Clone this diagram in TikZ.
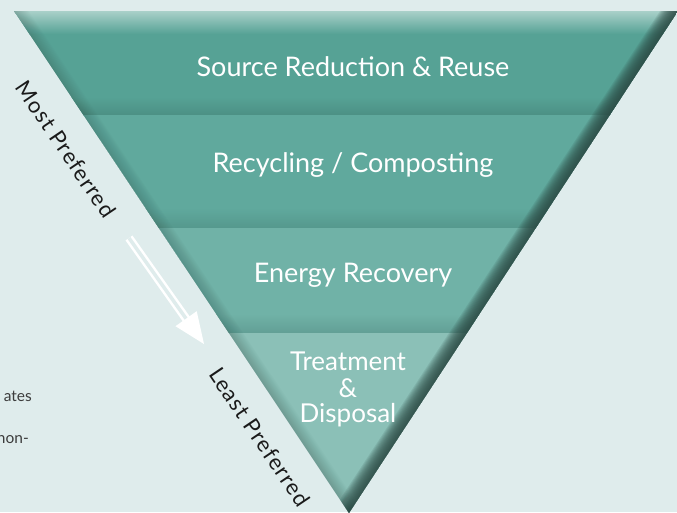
\documentclass[tikz,border=0pt]{standalone}
\usepackage{fontspec}
\setmainfont{Lato}
\usetikzlibrary{calc}
\definecolor{bg}{HTML}{DFECEC}
\definecolor{bandA}{HTML}{56A295}
\definecolor{bandAd}{HTML}{4C9084}
\definecolor{bandB}{HTML}{60A99D}
\definecolor{bandBd}{HTML}{55988D}
\definecolor{bandC}{HTML}{70B2A7}
\definecolor{bandCd}{HTML}{629F95}
\definecolor{bandD}{HTML}{8BC0B7}
\definecolor{toplight}{HTML}{A9D0C9}
\definecolor{edgedark}{HTML}{2C4A44}
\definecolor{ink}{HTML}{1A1A1A}
\definecolor{note}{HTML}{3C3C3C}
\begin{document}
\begin{tikzpicture}[x=1pt,y=-1pt,
  bandlabel/.style={text=white,font=\fontsize{27}{27}\selectfont,align=center,inner sep=0pt},
  sidelabel/.style={text=ink,font=\fontsize{22}{24}\selectfont\addfontfeatures{LetterSpace=5},rotate=-56,inner sep=0pt},
  notetext/.style={text=note,font=\fontsize{15.5}{18}\selectfont,inner sep=0pt},
  shaft/.style={draw=white,double=bg,line width=2.5pt,double distance=3.5pt}]
\fill[bg] (0,0) rectangle (677,512);
\useasboundingbox (0,0) rectangle (677,512);
\coordinate (L) at (14,11);
\coordinate (R) at (678,11);
\coordinate (A) at (349,513);
\begin{scope}
  \clip (L) -- (R) -- (A) -- cycle;
  \fill[bandA] (0,11) rectangle (677,115);
  \shade[top color=toplight, bottom color=bandA] (0,11) rectangle (677,34);
  \shade[top color=bandA, bottom color=bandAd] (0,97) rectangle (677,115);
  \fill[bandB] (0,115) rectangle (677,228);
  \shade[top color=bandB, bottom color=bandBd] (0,208) rectangle (677,228);
  \fill[bandC] (0,228) rectangle (677,333);
  \shade[top color=bandC, bottom color=bandCd] (0,314) rectangle (677,333);
  \fill[bandD] (0,333) rectangle (677,513);
  \foreach \w in {2,4,...,30} \draw[edgedark, line width=\w pt, opacity=0.12] (R) -- (A);
  \foreach \w in {2,4,...,24} \draw[edgedark, line width=\w pt, opacity=0.025] (L) -- (A);
\end{scope}
\node[bandlabel, anchor=base] (src) at (353,76) {Source Reduction \& Reuse};
\node[bandlabel, anchor=base] (rec) at (353,172) {Recycling / Composting};
\node[bandlabel, anchor=base] (ene) at (353,282) {Energy Recovery};
\node[bandlabel, font=\fontsize{26}{26}\selectfont, anchor=base] (trt1) at (348,370) {Treatment};
\node[bandlabel, font=\fontsize{26}{26}\selectfont, anchor=base] (trt2) at (348,397) {\&};
\node[bandlabel, font=\fontsize{26}{26}\selectfont, anchor=base] (trt3) at (348,422) {Disposal};
\node[sidelabel] (most) at (66,149) {Most Preferred};
\node[sidelabel] (least) at (260,437) {Least Preferred};
\coordinate (arrS) at (129,238);
\coordinate (arrT) at (204,344);
\coordinate (arrB) at ($(arrT)!31pt!(arrS)$);
\coordinate (arrE) at ($(arrT)!27pt!(arrS)$);
\draw[shaft] (arrS) -- (arrE);
\fill[white] (arrT) -- ($(arrB)!13pt!90:(arrT)$) -- ($(arrB)!13pt!-90:(arrT)$) -- cycle;
\node[notetext, anchor=base east] (n1) at (32,401) {ates};
\node[notetext, anchor=base east] (n2) at (29,443) {non-};
\end{tikzpicture}
\end{document}
